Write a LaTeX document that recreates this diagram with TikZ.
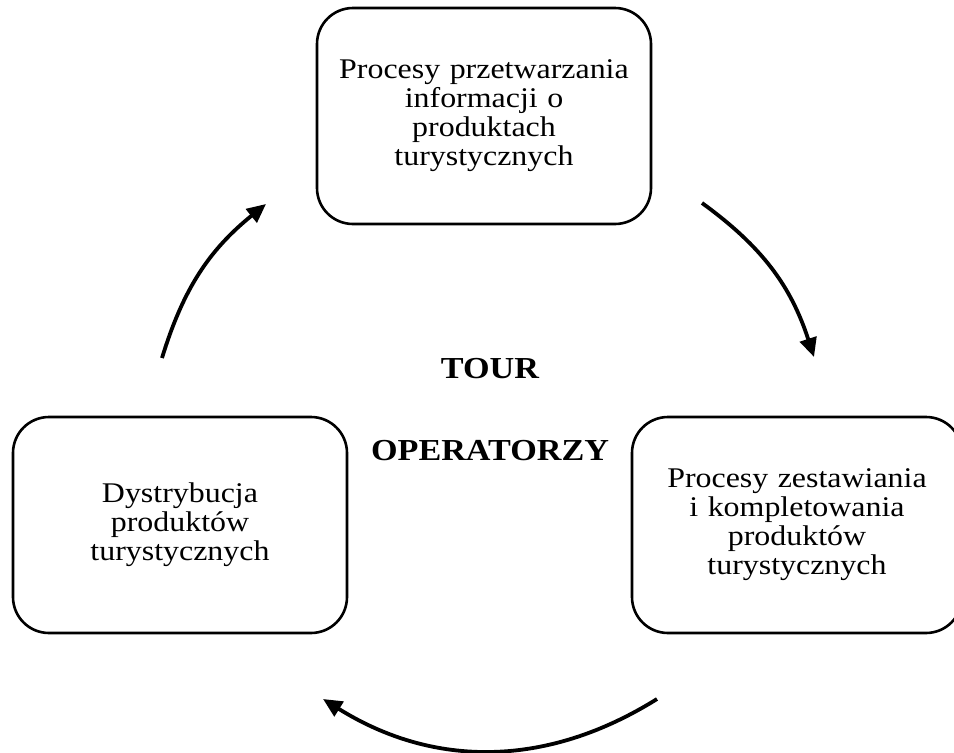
\documentclass[tikz,border=0pt]{standalone}
\usepackage{fontspec}
\setmainfont{Liberation Serif}[FakeStretch=1.12]
\usetikzlibrary{arrows.meta}
\tikzset{
  procbox/.style={draw, line width=2.6pt, rounded corners=36pt, minimum width=334pt, minimum height=216pt, inner sep=0pt, text width=320pt, align=center, font=\fontsize{28.5}{29}\selectfont},
  cyclearrow/.style={line width=3.8pt, -{Triangle[length=19pt,width=17pt]}},
  centerlabel/.style={font=\fontsize{30.5}{32}\selectfont\bfseries, inner sep=0pt, anchor=base}
}
\begin{document}
\begin{tikzpicture}[x=1pt,y=-1pt]
\useasboundingbox (0,0) rectangle (954,753);
\clip (0,0) rectangle (954,753);
\fill[white] (0,0) rectangle (954,753);
\node[procbox] (top) at (484,116) {Procesy przetwarzania\\informacji o\\produktach\\turystycznych};
\node[procbox] (left) at (180,525) {Dystrybucja\\produktów\\turystycznych};
\node[procbox, minimum width=330pt] (right) at (797,525) {Procesy zestawiania\\i kompletowania\\produktów\\turystycznych};
\node[centerlabel] (tour) at (490,378) {TOUR};
\node[centerlabel] (oper) at (490,460) {OPERATORZY};
\coordinate (a1s) at (702,203);
\coordinate (a1e) at (814,357);
\coordinate (a2s) at (657,699);
\coordinate (a2e) at (323,699);
\coordinate (a3s) at (162,358);
\coordinate (a3e) at (266,204);
\draw[cyclearrow] (a1s) to[bend left=18] (a1e);
\draw[cyclearrow] (a2s) to[bend left=32] (a2e);
\draw[cyclearrow] (a3s) to[bend left=17] (a3e);
\end{tikzpicture}
\end{document}
